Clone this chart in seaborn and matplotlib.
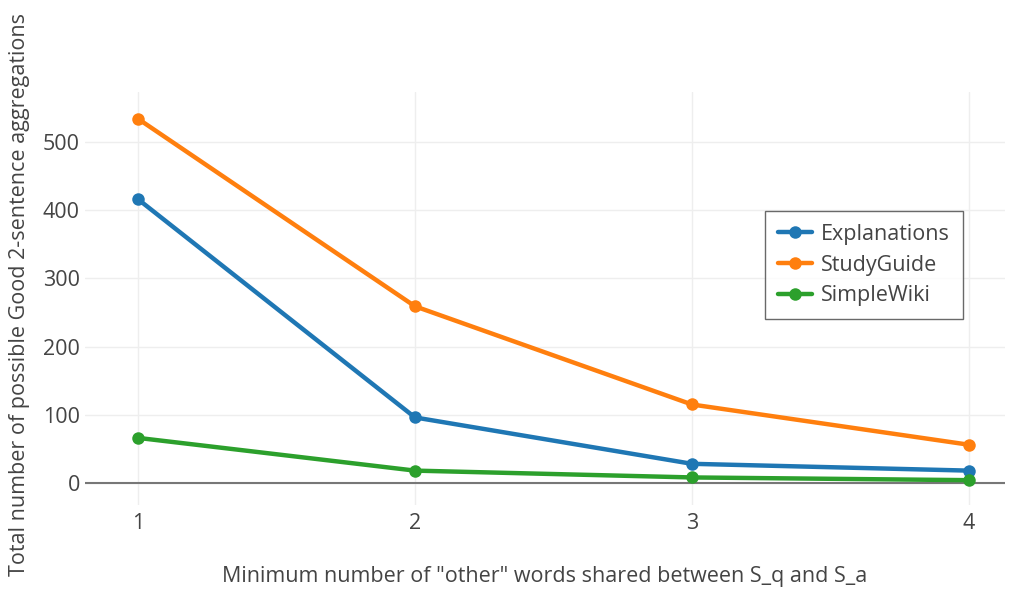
import matplotlib
matplotlib.use("Agg")
import matplotlib.pyplot as plt
import numpy as np
import pandas as pd
import seaborn as sns

# values
min_shared = [1, 2, 3, 4]
explanations = [416, 96, 28, 18]
study_guide = [534, 259, 115, 56]
simple_wiki = [66, 18, 8, 4]
series_names = ["Explanations", "StudyGuide", "SimpleWiki"]
palette = ["#1f77b4", "#ff7f0e", "#2ca02c"]

df = pd.DataFrame({
    "x": min_shared * 3,
    "y": explanations + study_guide + simple_wiki,
    "series": np.repeat(series_names, len(min_shared)),
})

sns.set_theme(style="white")
plt.rcParams['font.family'] = ['Open Sans', 'DejaVu Sans']

fig = plt.figure(figsize=(10.17, 5.91), dpi=100)
ax = fig.add_axes([0.084, 0.146, 0.904, 0.698])

ax.grid(True, color="#eeeeee", linewidth=1)
ax.set_axisbelow(True)
ax.axhline(0, color="#777777", linewidth=1.5, zorder=1)

sns.lineplot(data=df, x="x", y="y", hue="series", palette=palette,
             marker="o", markersize=9, markeredgewidth=0, linewidth=3.2,
             ax=ax, zorder=3)

ax.set_xlim(0.81, 4.13)
ax.set_ylim(-32, 573)
ax.set_xticks(min_shared)
ax.set_yticks([0, 100, 200, 300, 400, 500])
ax.tick_params(axis="both", length=0, labelsize=15.5, labelcolor="#444444")
ax.tick_params(axis="y", pad=4)
ax.tick_params(axis="x", pad=6)
for s in ax.spines.values():
    s.set_visible(False)

ax.set_xlabel('Minimum number of "other" words shared between S_q and S_a',
              fontsize=15.5, color="#444444", labelpad=23)
ax.set_ylabel("Total number of possible Good 2-sentence aggregations",
              fontsize=15.5, color="#444444")
ax.yaxis.set_label_coords(-0.06, 0.51)

leg = ax.legend(loc="upper left", bbox_to_anchor=(0.752, 0.643),
                bbox_transform=fig.transFigure, borderaxespad=0,
                fontsize=15.5, frameon=True, fancybox=False,
                edgecolor="#444444", handlelength=1.6, handletextpad=0.4,
                borderpad=0.6, labelspacing=0.45)
leg.get_frame().set_linewidth(1)
for t in leg.get_texts():
    t.set_color("#444444")

fig.savefig("out.png", dpi=100)
